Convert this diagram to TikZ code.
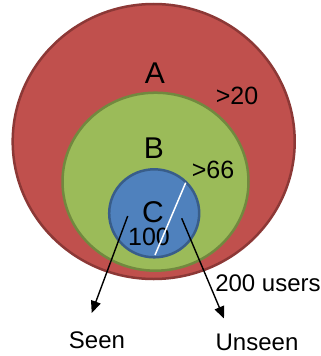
\documentclass[tikz,border=0pt]{standalone}
\usepackage{fontspec}
\setmainfont{Liberation Sans}
\usetikzlibrary{arrows.meta}
\definecolor{redfill}{HTML}{C0504D}
\definecolor{redline}{HTML}{8C3836}
\definecolor{greenfill}{HTML}{9BBB59}
\definecolor{greenline}{HTML}{71893F}
\definecolor{bluefill}{HTML}{4F81BD}
\definecolor{blueline}{HTML}{385D8A}
\tikzset{
  setring/.style={line width=2.5pt},
  biglabel/.style={font=\fontsize{30}{33}\selectfont, inner sep=0pt},
  midlabel/.style={font=\fontsize{25}{28}\selectfont, inner sep=0pt},
  outlabel/.style={font=\fontsize{24}{27}\selectfont, inner sep=0pt},
  pointer/.style={line width=1.4pt, -{Triangle[length=12pt,width=10pt]}},
}
\begin{document}
\begin{tikzpicture}[x=1pt,y=-1pt]
\useasboundingbox (0,0) rectangle (321,356);
\fill[white] (0,0) rectangle (321,356);
% sets
\draw[setring, draw=redline, fill=redfill] (153.7,141.5) ellipse [x radius=141, y radius=137.5];
\draw[setring, draw=greenline, fill=greenfill] (155.5,181.7) ellipse [x radius=93, y radius=89];
\draw[setring, draw=blueline, fill=bluefill] (154.2,213.3) ellipse [x radius=45, y radius=44];
% labels
\node[biglabel] (A) at (155,73) {A};
\node[biglabel] (B) at (154,148) {B};
\node[biglabel] (C) at (153,212) {C};
\node[midlabel] (gt20) at (237,96) {>20};
\node[midlabel] (gt66) at (213,170) {>66};
\node[midlabel] (hundred) at (149,237) {100};
\node[outlabel] (users) at (268,283) {200 users};
\node[outlabel] (seen) at (97,340) {Seen};
\node[outlabel] (unseen) at (257,342) {Unseen};
% divider
\coordinate (d1) at (185.7,182.7);
\coordinate (d2) at (155,255);
\draw[white, line width=1.5pt] (d1) -- (d2);
% pointers
\coordinate (s1) at (127.7,216);
\coordinate (s2) at (91.7,313);
\coordinate (u1) at (181.7,218.3);
\coordinate (u2) at (224,318.5);
\draw[pointer] (s1) -- (s2);
\draw[pointer] (u1) -- (u2);
\end{tikzpicture}
\end{document}
